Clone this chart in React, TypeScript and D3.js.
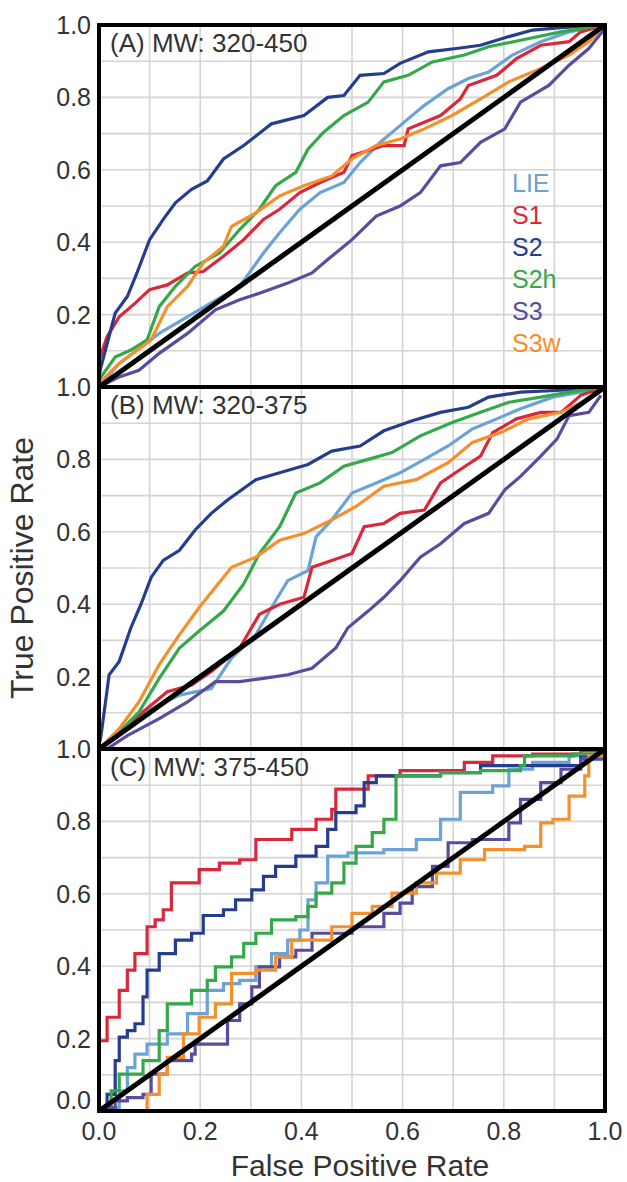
import React from 'react';
import * as d3 from 'd3';

type Pt = [number, number];

const seriesNames = ['LIE', 'S1', 'S2', 'S2h', 'S3', 'S3w'];
const seriesColors = ['#6ba3d6', '#d9283a', '#263d8f', '#35a84a', '#5b4b9e', '#f4902c'];
const panelTitles = ['(A) MW: 320-450', '(B) MW: 320-375', '(C) MW: 375-450'];
const xTicks = [0, 0.2, 0.4, 0.6, 0.8, 1.0];
const yTicks = [0.2, 0.4, 0.6, 0.8, 1.0];
const gridSteps = [0.1, 0.2, 0.3, 0.4, 0.5, 0.6, 0.7, 0.8, 0.9];

// panel A: MW 320-450
const aLIE: Pt[] = [[0, 0], [0.04, 0.065], [0.119, 0.148], [0.198, 0.213], [0.278, 0.278], [0.325, 0.37], [0.357, 0.426], [0.397, 0.491], [0.437, 0.537], [0.484, 0.565], [0.516, 0.62], [0.556, 0.676], [0.595, 0.722], [0.643, 0.778], [0.69, 0.824], [0.73, 0.852], [0.77, 0.87], [0.817, 0.917], [0.873, 0.954], [0.929, 0.981], [1, 1]];
const aS1: Pt[] = [[0, 0.074], [0.016, 0.139], [0.04, 0.194], [0.071, 0.231], [0.1, 0.269], [0.135, 0.282], [0.175, 0.315], [0.206, 0.319], [0.246, 0.361], [0.286, 0.407], [0.325, 0.463], [0.357, 0.491], [0.397, 0.537], [0.437, 0.565], [0.484, 0.593], [0.5, 0.639], [0.563, 0.667], [0.603, 0.667], [0.611, 0.713], [0.675, 0.75], [0.714, 0.796], [0.73, 0.833], [0.786, 0.861], [0.825, 0.907], [0.873, 0.944], [0.929, 0.954], [0.952, 0.981], [1, 1]];
const aS2: Pt[] = [[0, 0.03], [0.004, 0.056], [0.032, 0.204], [0.056, 0.25], [0.075, 0.315], [0.1, 0.407], [0.127, 0.463], [0.151, 0.509], [0.183, 0.546], [0.214, 0.569], [0.246, 0.63], [0.286, 0.667], [0.341, 0.727], [0.405, 0.75], [0.452, 0.8], [0.484, 0.805], [0.516, 0.861], [0.563, 0.866], [0.595, 0.894], [0.651, 0.926], [0.706, 0.935], [0.754, 0.944], [0.81, 0.968], [0.857, 0.986], [0.913, 0.993], [1, 1]];
const aS2h: Pt[] = [[0, 0], [0.004, 0.028], [0.032, 0.083], [0.063, 0.102], [0.095, 0.13], [0.119, 0.222], [0.151, 0.278], [0.19, 0.333], [0.238, 0.37], [0.278, 0.435], [0.317, 0.491], [0.349, 0.556], [0.389, 0.593], [0.413, 0.657], [0.444, 0.704], [0.484, 0.75], [0.532, 0.787], [0.563, 0.843], [0.611, 0.861], [0.659, 0.898], [0.722, 0.917], [0.77, 0.94], [0.833, 0.958], [0.913, 0.981], [1, 1]];
const aS3: Pt[] = [[0, 0], [0.04, 0.028], [0.079, 0.046], [0.119, 0.093], [0.175, 0.148], [0.23, 0.213], [0.278, 0.241], [0.317, 0.259], [0.373, 0.287], [0.421, 0.315], [0.452, 0.352], [0.5, 0.407], [0.548, 0.472], [0.595, 0.5], [0.635, 0.537], [0.675, 0.611], [0.714, 0.62], [0.754, 0.676], [0.802, 0.713], [0.833, 0.787], [0.889, 0.833], [0.929, 0.889], [0.968, 0.935], [1, 0.991]];
const aS3w: Pt[] = [[0, 0.01], [0.04, 0.065], [0.103, 0.13], [0.135, 0.222], [0.175, 0.278], [0.206, 0.343], [0.246, 0.389], [0.262, 0.444], [0.31, 0.481], [0.357, 0.528], [0.405, 0.556], [0.46, 0.583], [0.5, 0.63], [0.548, 0.667], [0.595, 0.685], [0.643, 0.713], [0.698, 0.75], [0.754, 0.796], [0.81, 0.843], [0.873, 0.88], [0.929, 0.917], [0.968, 0.954], [1, 1]];

// panel B: MW 320-375
const bLIE: Pt[] = [[0, 0], [0.079, 0.093], [0.159, 0.149], [0.222, 0.167], [0.262, 0.251], [0.31, 0.316], [0.341, 0.391], [0.373, 0.465], [0.413, 0.493], [0.429, 0.586], [0.46, 0.633], [0.5, 0.707], [0.548, 0.735], [0.595, 0.763], [0.643, 0.8], [0.69, 0.837], [0.738, 0.884], [0.786, 0.912], [0.833, 0.94], [0.897, 0.972], [0.952, 0.986], [1, 1]];
const bS1: Pt[] = [[0, 0], [0.079, 0.093], [0.135, 0.158], [0.183, 0.177], [0.222, 0.214], [0.278, 0.279], [0.317, 0.372], [0.357, 0.4], [0.405, 0.419], [0.421, 0.502], [0.46, 0.521], [0.5, 0.54], [0.524, 0.614], [0.563, 0.623], [0.595, 0.651], [0.643, 0.66], [0.675, 0.735], [0.714, 0.772], [0.754, 0.809], [0.778, 0.874], [0.825, 0.912], [0.873, 0.93], [0.913, 0.93], [0.952, 0.977], [1, 1]];
const bS2: Pt[] = [[0, 0.01], [0.004, 0.037], [0.02, 0.205], [0.04, 0.242], [0.063, 0.335], [0.083, 0.4], [0.103, 0.474], [0.127, 0.521], [0.159, 0.549], [0.19, 0.605], [0.222, 0.651], [0.254, 0.688], [0.31, 0.744], [0.357, 0.763], [0.413, 0.786], [0.46, 0.823], [0.516, 0.837], [0.563, 0.879], [0.619, 0.907], [0.675, 0.93], [0.73, 0.944], [0.77, 0.972], [0.833, 0.986], [0.913, 0.991], [1, 1]];
const bS2h: Pt[] = [[0, 0], [0.04, 0.047], [0.079, 0.102], [0.119, 0.195], [0.159, 0.279], [0.198, 0.326], [0.246, 0.381], [0.286, 0.456], [0.317, 0.54], [0.357, 0.614], [0.389, 0.707], [0.437, 0.735], [0.484, 0.781], [0.532, 0.8], [0.579, 0.819], [0.635, 0.865], [0.698, 0.902], [0.754, 0.93], [0.81, 0.958], [0.873, 0.972], [0.929, 0.986], [1, 1]];
const bS3: Pt[] = [[0.016, 0], [0.056, 0.037], [0.119, 0.084], [0.175, 0.13], [0.23, 0.186], [0.278, 0.186], [0.325, 0.195], [0.373, 0.205], [0.421, 0.223], [0.468, 0.279], [0.492, 0.335], [0.532, 0.381], [0.563, 0.419], [0.595, 0.465], [0.635, 0.53], [0.675, 0.567], [0.722, 0.623], [0.77, 0.651], [0.802, 0.716], [0.833, 0.753], [0.873, 0.809], [0.905, 0.856], [0.929, 0.921], [0.968, 0.93], [0.992, 0.977]];
const bS3w: Pt[] = [[0, 0], [0.04, 0.056], [0.079, 0.13], [0.119, 0.233], [0.159, 0.316], [0.198, 0.391], [0.23, 0.447], [0.262, 0.502], [0.31, 0.53], [0.357, 0.577], [0.405, 0.595], [0.46, 0.633], [0.508, 0.67], [0.563, 0.726], [0.627, 0.744], [0.69, 0.791], [0.738, 0.847], [0.794, 0.874], [0.849, 0.912], [0.913, 0.93], [0.968, 0.967], [1, 1]];

// panel C: MW 375-450 (few actives, so coarse steps)
const cLIE: Pt[] = [[0, 0.009], [0.04, 0.056], [0.056, 0.12], [0.071, 0.157], [0.095, 0.185], [0.135, 0.213], [0.175, 0.269], [0.214, 0.333], [0.246, 0.352], [0.278, 0.361], [0.31, 0.398], [0.341, 0.435], [0.373, 0.472], [0.397, 0.5], [0.413, 0.583], [0.429, 0.63], [0.452, 0.704], [0.492, 0.713], [0.563, 0.722], [0.627, 0.75], [0.675, 0.806], [0.714, 0.88], [0.778, 0.898], [0.81, 0.944], [0.857, 0.963], [0.929, 0.981], [1, 1]];
const cS1: Pt[] = [[0, 0.194], [0.016, 0.259], [0.04, 0.333], [0.056, 0.389], [0.071, 0.435], [0.095, 0.509], [0.111, 0.528], [0.127, 0.556], [0.143, 0.63], [0.198, 0.667], [0.238, 0.685], [0.278, 0.694], [0.31, 0.75], [0.381, 0.778], [0.429, 0.806], [0.46, 0.833], [0.468, 0.889], [0.532, 0.926], [0.595, 0.94], [0.722, 0.963], [0.778, 0.981], [0.857, 0.986], [0.952, 0.995], [1, 1]];
const cS2: Pt[] = [[0, 0.009], [0.016, 0.046], [0.032, 0.139], [0.04, 0.204], [0.056, 0.222], [0.071, 0.241], [0.087, 0.315], [0.095, 0.389], [0.119, 0.435], [0.151, 0.472], [0.183, 0.491], [0.206, 0.54], [0.246, 0.556], [0.27, 0.583], [0.302, 0.611], [0.325, 0.648], [0.349, 0.676], [0.389, 0.704], [0.429, 0.731], [0.452, 0.778], [0.468, 0.824], [0.508, 0.843], [0.524, 0.907], [0.548, 0.926], [0.675, 0.935], [0.754, 0.954], [0.857, 0.954], [0.952, 0.981], [1, 1]];
const cS2h: Pt[] = [[0, 0.009], [0.024, 0.056], [0.04, 0.102], [0.087, 0.139], [0.119, 0.222], [0.135, 0.296], [0.183, 0.333], [0.214, 0.361], [0.23, 0.398], [0.262, 0.426], [0.286, 0.463], [0.31, 0.491], [0.341, 0.528], [0.389, 0.537], [0.413, 0.565], [0.429, 0.602], [0.46, 0.63], [0.484, 0.685], [0.508, 0.731], [0.54, 0.769], [0.563, 0.806], [0.587, 0.926], [0.675, 0.935], [0.754, 0.94], [0.833, 0.954], [0.841, 0.981], [0.937, 0.986], [1, 1]];
const cS3: Pt[] = [[0, 0.009], [0.032, 0.028], [0.056, 0.037], [0.087, 0.046], [0.103, 0.102], [0.135, 0.139], [0.183, 0.157], [0.19, 0.185], [0.254, 0.25], [0.278, 0.296], [0.302, 0.343], [0.317, 0.398], [0.357, 0.426], [0.389, 0.444], [0.421, 0.491], [0.5, 0.509], [0.563, 0.546], [0.595, 0.574], [0.619, 0.62], [0.659, 0.676], [0.69, 0.741], [0.738, 0.75], [0.81, 0.796], [0.833, 0.861], [0.873, 0.907], [0.913, 0.944], [0.952, 0.972], [1, 1]];
const cS3w: Pt[] = [[0, 0], [0.095, 0.046], [0.119, 0.102], [0.135, 0.148], [0.167, 0.213], [0.198, 0.259], [0.23, 0.296], [0.262, 0.38], [0.31, 0.389], [0.349, 0.426], [0.381, 0.472], [0.46, 0.509], [0.5, 0.546], [0.54, 0.565], [0.579, 0.602], [0.627, 0.63], [0.667, 0.657], [0.714, 0.694], [0.762, 0.722], [0.841, 0.731], [0.873, 0.796], [0.897, 0.806], [0.929, 0.87], [0.96, 0.926], [0.968, 0.981], [1, 1]];

const panelData: Pt[][][] = [
    [aLIE, aS1, aS2, aS2h, aS3, aS3w],
    [bLIE, bS1, bS2, bS2h, bS3, bS3w],
    [cLIE, cS1, cS2, cS2h, cS3, cS3w]
];

const width = 627;
const height = 1182;
const left = 99;
const right = 605;
const panelTop = 25;
const panelHeight = 362;
const font = '"Liberation Sans", Arial, sans-serif';
const textColor = '#333';

const x = d3.scaleLinear().domain([0, 1]).range([left, right]);

function Panel({index}: {index: number}) {
    const top = panelTop + index * panelHeight;
    const y = d3.scaleLinear().domain([0, 1]).range([top + panelHeight, top]);
    const stepped = index === 2;
    const line = d3.line<Pt>()
        .x((d) => x(d[0]))
        .y((d) => y(d[1]))
        .curve(stepped ? d3.curveStepAfter : d3.curveLinear);
    const ticks = index === 2 ? [0, ...yTicks] : yTicks;

    return (
        <g>
            {/* grid */}
            {gridSteps.map((g) => (
                <line key={'gx' + g} x1={x(g)} x2={x(g)} y1={top} y2={top + panelHeight}
                    stroke="#d4d4d4" strokeWidth={1.6} />
            ))}
            {gridSteps.map((g) => (
                <line key={'gy' + g} x1={left} x2={right} y1={y(g)} y2={y(g)}
                    stroke="#d4d4d4" strokeWidth={1.6} />
            ))}

            {/* curves */}
            {panelData[index].map((pts, i) => (
                <path key={seriesNames[i]} d={line(pts) || ''} fill="none"
                    stroke={seriesColors[i]} strokeWidth={3.2} strokeLinejoin="miter" />
            ))}

            {/* random classifier */}
            <line x1={x(0)} y1={y(0)} x2={x(1)} y2={y(1)} stroke="#000" strokeWidth={5} />

            <rect x={left} y={top} width={right - left} height={panelHeight}
                fill="none" stroke="#000" strokeWidth={4} />

            <text x={left + 11} y={top + 27} fontSize={26} fill={textColor} fontFamily={font}>
                {panelTitles[index]}
            </text>

            {ticks.map((t) => (
                <text key={t} x={left - 8} y={t === 0 ? y(t) - 11 : y(t)} dy="0.36em" textAnchor="end"
                    fontSize={25} fill={textColor} fontFamily={font}>
                    {t.toFixed(1)}
                </text>
            ))}

            {index === 0 && seriesNames.map((s, i) => (
                <text key={s} x={512} y={183 + i * 32} dy="0.36em" fontSize={25}
                    fill={seriesColors[i]} fontFamily={font}>{s}</text>
            ))}
        </g>
    );
}

export default function App() {
    const bottom = panelTop + 3 * panelHeight;
    return (
        <svg width={width} height={height}
            style={{position: 'absolute', left: 0, top: 0, background: '#fff'}}>
            {[0, 1, 2].map((i) => <Panel key={i} index={i} />)}

            {xTicks.map((t) => (
                <text key={t} x={x(t)} y={bottom + 29} textAnchor="middle" fontSize={25}
                    fill={textColor} fontFamily={font}>{t.toFixed(1)}</text>
            ))}

            <text x={(left + right) / 2 + 8} y={1176} textAnchor="middle" fontSize={30}
                fill={textColor} fontFamily={font}>False Positive Rate</text>
            <text transform={`translate(33, 568) rotate(-90)`} textAnchor="middle" fontSize={32}
                fill={textColor} fontFamily={font}>True Positive Rate</text>
        </svg>
    );
}
